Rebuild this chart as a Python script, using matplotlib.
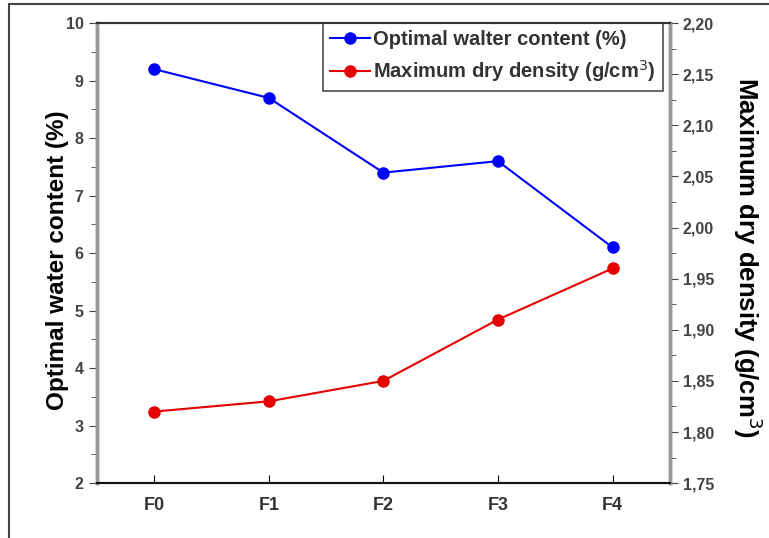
import matplotlib.pyplot as plt
from matplotlib.patches import Rectangle
from matplotlib.ticker import MultipleLocator, FuncFormatter

samples = ["F0", "F1", "F2", "F3", "F4"]
water_content = [9.2, 8.7, 7.4, 7.6, 6.1]
dry_density = [1.82, 1.83, 1.85, 1.91, 1.96]

plt.rcParams["font.family"] = ["Liberation Sans", "DejaVu Sans"]

fig = plt.figure(figsize=(7.69, 5.38), dpi=100)
ax = fig.add_axes([0.126, 0.102, 0.745, 0.855])
ax2 = ax.twinx()

x = list(range(len(samples)))
l1, = ax.plot(x, water_content, color="#0000ff", marker="o", markersize=8,
              linewidth=1.5, label="Optimal walter content (%)")
l2, = ax2.plot(x, dry_density, color="#e60000", marker="o", markersize=8,
               linewidth=1.5, label="Maximum dry density (g/cm$^3$)")

ax.set_xlim(-0.5, 4.5)
ax.set_ylim(2, 10)
ax2.set_ylim(1.75, 2.20)
ax.set_xticks(x)
ax.set_xticklabels(samples, fontsize=13, fontweight="bold", color="#333333")

ax.yaxis.set_major_locator(MultipleLocator(1))
ax.yaxis.set_minor_locator(MultipleLocator(0.5))
ax2.yaxis.set_major_locator(MultipleLocator(0.05))
ax2.yaxis.set_minor_locator(MultipleLocator(0.025))
ax2.yaxis.set_major_formatter(FuncFormatter(lambda v, p: f"{v:.2f}".replace(".", ",")))

ax.tick_params(axis="x", direction="in", length=6, pad=10)
ax.tick_params(axis="y", which="both", direction="out", labelsize=11.5, colors="#444444")
ax2.tick_params(axis="y", which="both", direction="out", labelsize=11.5, colors="#444444")
ax.tick_params(axis="y", which="major", length=6)
ax.tick_params(axis="y", which="minor", length=4)
ax2.tick_params(axis="y", which="major", length=6)
ax2.tick_params(axis="y", which="minor", length=4)

for lab in ax.get_yticklabels() + ax2.get_yticklabels():
    lab.set_fontweight("bold")

# spines: grey verticals, dark horizontals
for a in (ax, ax2):
    a.spines["left"].set_color("#999999")
    a.spines["right"].set_color("#999999")
    a.spines["left"].set_linewidth(2.5)
    a.spines["right"].set_linewidth(2.5)
    a.spines["top"].set_color("#333333")
    a.spines["bottom"].set_color("#111111")
    a.spines["top"].set_linewidth(1.5)
    a.spines["bottom"].set_linewidth(1.5)

ax.set_ylabel("Optimal water content (%)", fontsize=17.5, fontweight="bold", labelpad=-2)
ax2.set_ylabel("Maximum dry density (g/cm$^3$)", fontsize=18.5, fontweight="bold",
               rotation=270, labelpad=36)
ax.yaxis.label.set_y(0.485)
ax2.yaxis.label.set_y(0.49)

leg = ax.legend(handles=[l1, l2], loc="upper right", bbox_to_anchor=(0.988, 1.0),
                fontsize=14.5, frameon=True, fancybox=False, handlelength=2.0,
                handletextpad=0.15, borderpad=0.35, labelspacing=0.45, borderaxespad=0)
leg.get_frame().set_edgecolor("#222222")
leg.get_frame().set_linewidth(1.2)
for t in leg.get_texts():
    t.set_fontweight("bold")
    t.set_color("#333333")

# outer frame around the figure
fig.patches.append(Rectangle((9 / 769, -0.1), 1.2, 1.1 - 4 / 538,
                             transform=fig.transFigure, fill=False,
                             edgecolor="#444444", linewidth=1.5))

fig.savefig("out.png", dpi=100)
